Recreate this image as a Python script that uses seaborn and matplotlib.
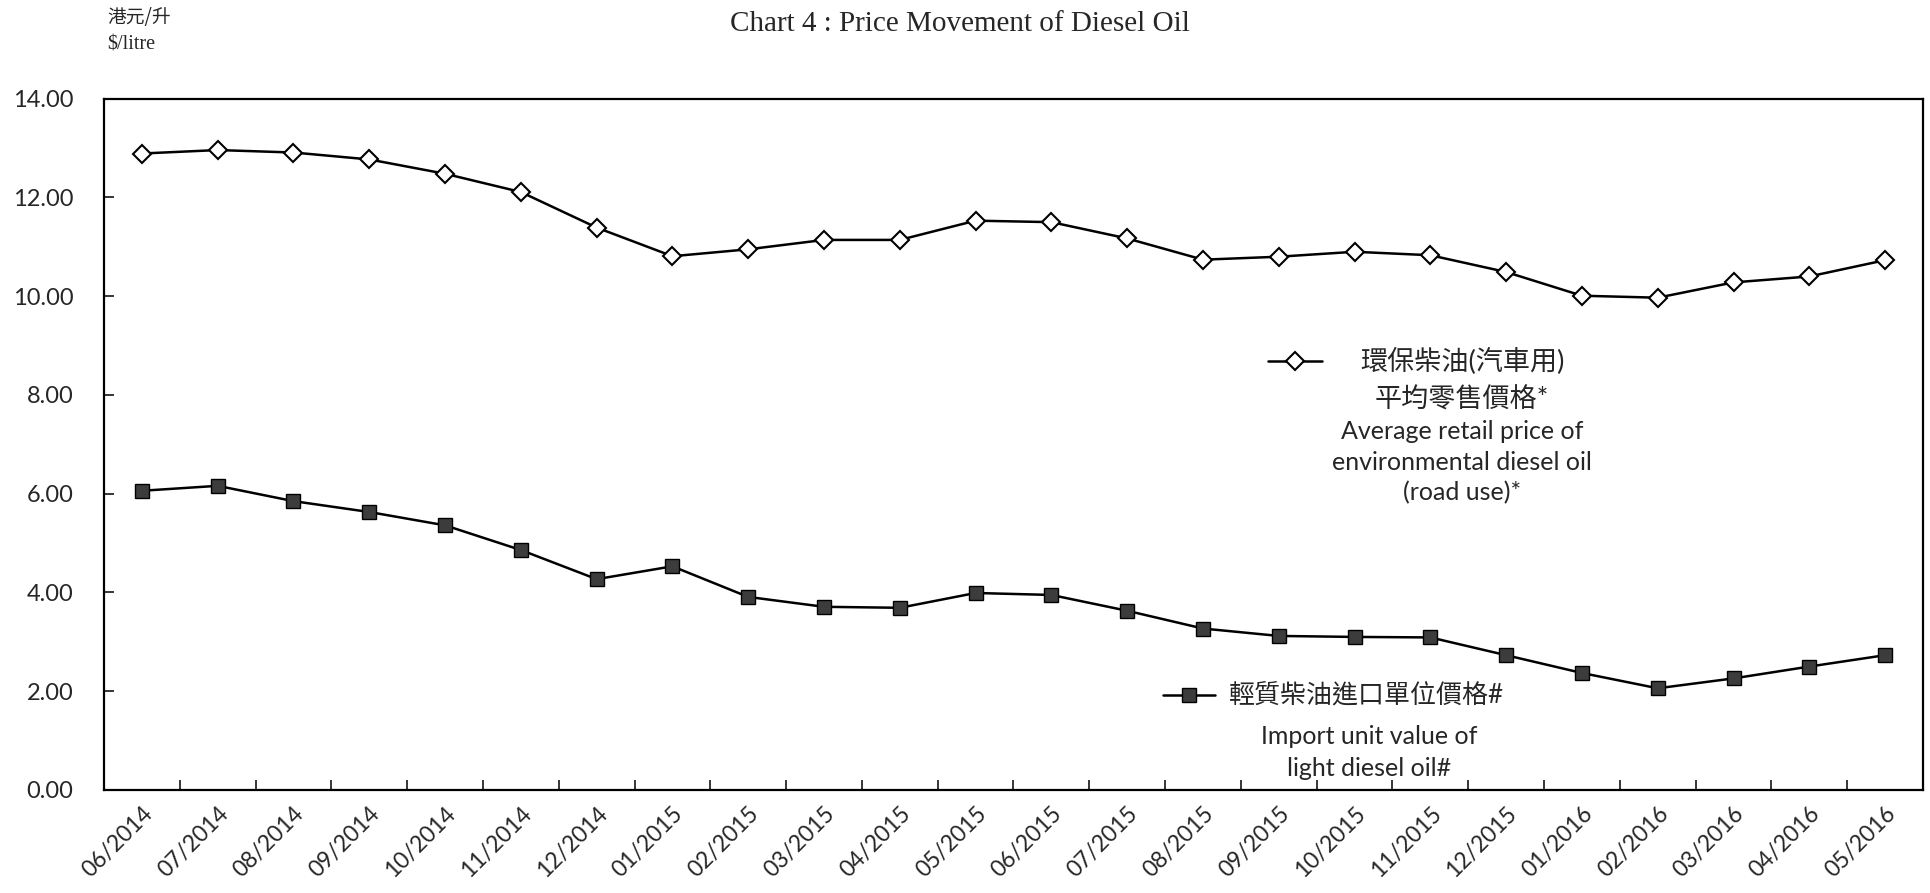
import numpy as np
import pandas as pd
import matplotlib
matplotlib.use('Agg')
import matplotlib.pyplot as plt
from matplotlib.lines import Line2D
import seaborn as sns

# data
months = ['06/2014', '07/2014', '08/2014', '09/2014', '10/2014', '11/2014', '12/2014',
          '01/2015', '02/2015', '03/2015', '04/2015', '05/2015', '06/2015', '07/2015',
          '08/2015', '09/2015', '10/2015', '11/2015', '12/2015', '01/2016', '02/2016',
          '03/2016', '04/2016', '05/2016']
retail = [12.89, 12.96, 12.91, 12.77, 12.48, 12.11, 11.39, 10.81, 10.95, 11.14, 11.14, 11.53,
          11.50, 11.17, 10.74, 10.80, 10.90, 10.83, 10.49, 10.01, 9.97, 10.28, 10.40, 10.73]
imports = [6.06, 6.16, 5.85, 5.63, 5.36, 4.86, 4.27, 4.53, 3.91, 3.71, 3.69, 3.99,
           3.95, 3.63, 3.27, 3.12, 3.10, 3.09, 2.73, 2.37, 2.06, 2.26, 2.50, 2.73]
yticks = [0, 2, 4, 6, 8, 10, 12, 14]

sns.set_style('ticks')
plt.rcParams['font.family'] = ['Lato', 'Noto Sans CJK TC', 'DejaVu Sans']

df = pd.DataFrame({'pos': np.arange(len(months)), 'month': months,
                   'retail': retail, 'imports': imports})

W, H = 1930, 893
fig = plt.figure(figsize=(W / 100, H / 100), dpi=100)
ax = fig.add_axes([104 / W, 1 - 790 / H, (1923 - 104) / W, (790 - 98.7) / H])

sns.lineplot(data=df, x='pos', y='retail', ax=ax, color='black', lw=1.8,
             marker='D', markersize=9.5, markerfacecolor='white',
             markeredgecolor='black', markeredgewidth=1.5)
sns.lineplot(data=df, x='pos', y='imports', ax=ax, color='black', lw=1.8,
             marker='s', markersize=10.5, markerfacecolor='#3c3c3c',
             markeredgecolor='black', markeredgewidth=1.0)

ax.set_xlim(-0.5, len(months) - 0.5)
ax.set_ylim(0, 14)
ax.set_yticks(yticks)
ax.set_yticklabels(['%.2f' % v for v in yticks], fontsize=17)
# tick marks sit between categories, labels at the categories
ax.set_xticks(np.arange(len(months) - 1) + 0.5)
ax.set_xticklabels([])
ax.set_xticks(np.arange(len(months)), minor=True)
ax.set_xticklabels(df['month'], minor=True, rotation=45, ha='right', va='top',
                   rotation_mode='anchor', fontsize=16.5)
ax.tick_params(axis='x', which='major', direction='in', length=7, width=1.3)
ax.tick_params(axis='x', which='minor', length=0, pad=9)
ax.tick_params(axis='y', direction='in', length=7, width=1.3, pad=22)
ax.set_xlabel('')
ax.set_ylabel('')
for s in ax.spines.values():
    s.set_visible(True)
    s.set_linewidth(1.6)
    s.set_color('black')

# titles
fig.text(960 / W, 1 - 24 / H, 'Chart 4 : Price Movement of Diesel Oil',
         family='Liberation Serif', fontsize=21, ha='center', va='center')
fig.text(107 / W, 1 - 18 / H, '港元/升', family=['Noto Sans CJK TC', 'DejaVu Sans'],
         fontsize=13.5, ha='left', va='center')
fig.text(107 / W, 1 - 45 / H, '$/litre', family='Liberation Serif',
         fontsize=14.5, ha='left', va='center')

# legend-like labels drawn in place
def key(x0, x1, y, **kw):
    fig.add_artist(Line2D([x0 / W, (x0 + x1) / 2 / W, x1 / W], [1 - y / H] * 3,
                          color='black', lw=1.8, markevery=[1], **kw))

key(1268, 1322, 361, marker='D', markersize=9.5, markerfacecolor='white',
    markeredgecolor='black', markeredgewidth=1.5)
lines1 = [('環保柴油(汽車用)', 361, 19.5), ('平均零售價格*', 400, 19.5),
          ('Average retail price of', 431, 18), ('environmental diesel oil', 462, 18),
          ('(road use)*', 493, 18)]
for t, y, fs in lines1:
    fig.text(1462 / W, 1 - y / H, t, fontsize=fs, ha='center', va='center')

key(1163, 1215, 695, marker='s', markersize=10.5, markerfacecolor='#3c3c3c',
    markeredgecolor='black', markeredgewidth=1.0)
fig.text(1228 / W, 1 - 695 / H, '輕質柴油進口單位價格#', fontsize=18.7,
         ha='left', va='center')
fig.text(1369 / W, 1 - 736 / H, 'Import unit value of', fontsize=18,
         ha='center', va='center')
fig.text(1369 / W, 1 - 768 / H, 'light diesel oil#', fontsize=18,
         ha='center', va='center')

fig.savefig('out.png', dpi=100)
